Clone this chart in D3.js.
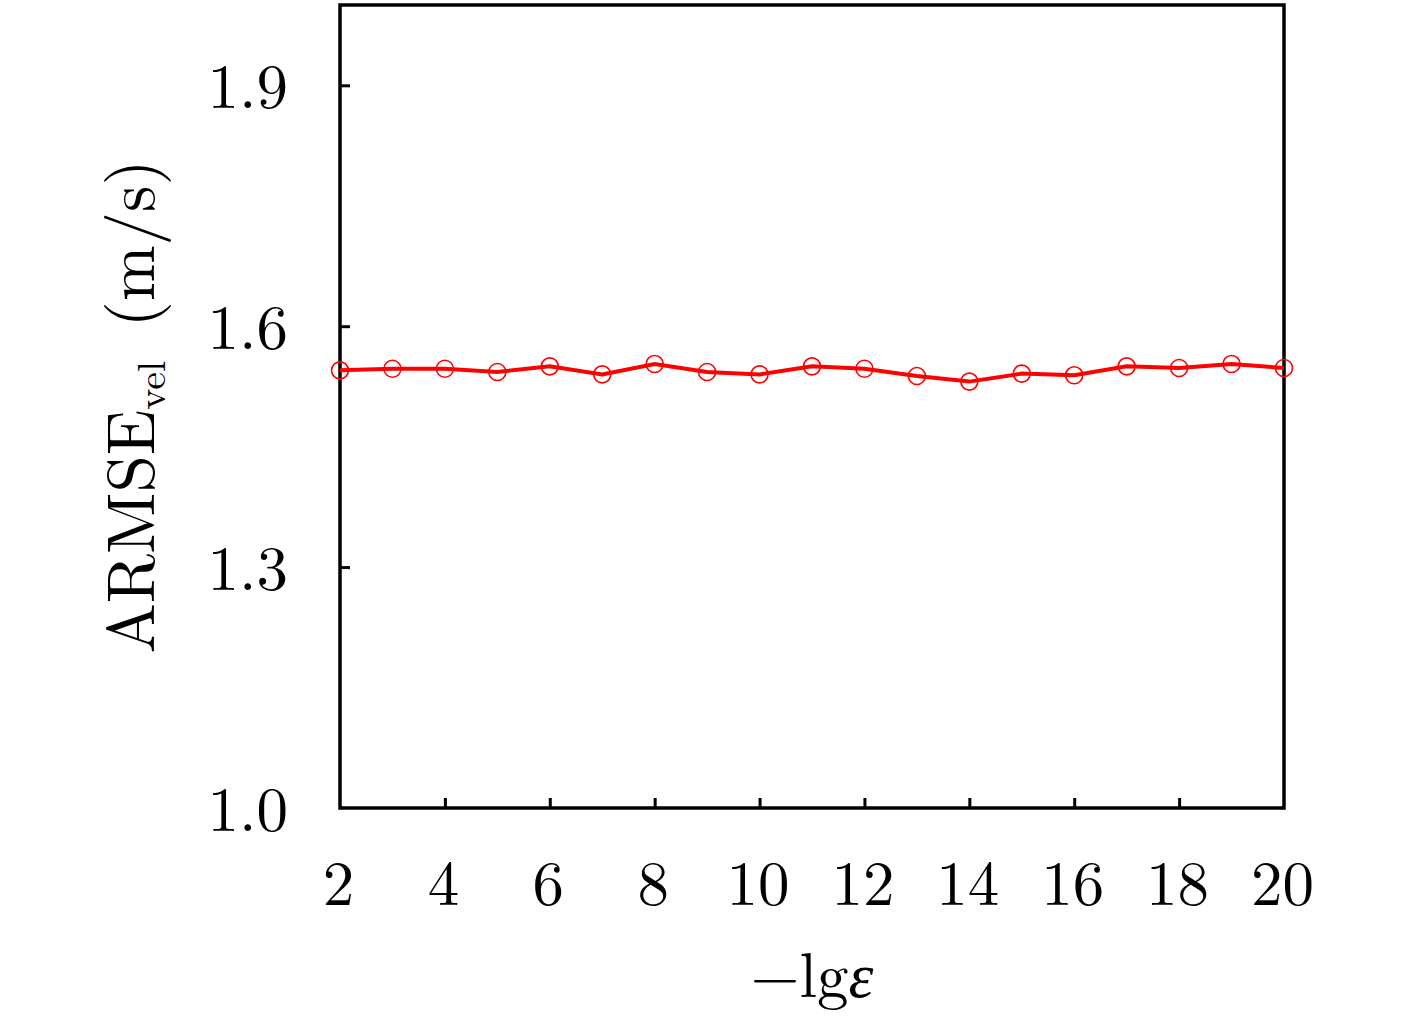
<!DOCTYPE html>
<head>
<meta charset="utf-8">
<style>
    body { margin: 0; background: #fff; }
    text { font-family: "Latin Modern Roman", "CMU Serif", "Liberation Serif", serif; fill: #000; }
</style>
</head>
<body>
    <script src="https://d3js.org/d3.v7.min.js"></script>
    <script>

    // data
    const xValues = [2, 3, 4, 5, 6, 7, 8, 9, 10, 11, 12, 13, 14, 15, 16, 17, 18, 19, 20];
    const armseVel = [1.545, 1.547, 1.547, 1.543, 1.550, 1.540, 1.553, 1.543, 1.540, 1.550,
                      1.547, 1.538, 1.531, 1.541, 1.539, 1.550, 1.548, 1.553, 1.548];
    const xTicks = [2, 4, 6, 8, 10, 12, 14, 16, 18, 20];
    const yTicks = [1.0, 1.3, 1.6, 1.9];

    // setup
    const W = 1417, H = 1020;
    const margin = { top: 5, right: 133, bottom: 212, left: 340 };
    const width = W - margin.left - margin.right;
    const height = H - margin.top - margin.bottom;

    let svg = d3.select('body').append('svg')
        .attr('width', W)
        .attr('height', H);
    let base = svg.append('g')
        .attr('transform', 'translate(' + margin.left + ',' + margin.top + ')');

    let x = d3.scaleLinear().domain([2, 20]).range([0, width]);
    let y = d3.scaleLinear().domain([1.0, 2.0]).range([height, 0]);

    // axes (ticks pointing inward)
    let xAxis = base.append('g')
        .attr('transform', 'translate(0,' + height + ')')
        .call(d3.axisBottom(x).tickValues(xTicks).tickSizeInner(-10).tickSizeOuter(0).tickPadding(52));
    let yAxis = base.append('g')
        .call(d3.axisLeft(y).tickValues(yTicks).tickSizeInner(-10).tickSizeOuter(0).tickPadding(52)
            .tickFormat(d3.format('.1f')));

    [xAxis, yAxis].forEach(a => {
        a.select('.domain').remove();
        a.selectAll('line').attr('stroke', '#000').attr('stroke-width', 3);
        a.selectAll('text').style('font-size', '63px');
    });
    // hide inner ticks at the box edges
    xAxis.selectAll('.tick').filter(d => d === 2 || d === 20).select('line').remove();
    yAxis.selectAll('.tick').filter(d => d === 1.0).select('line').remove();
    xAxis.selectAll('text').attr('dy', '0.71em').attr('dx', -2);
    yAxis.selectAll('text').attr('dy', '0.36em');

    // frame
    base.append('rect')
        .attr('x', 0).attr('y', 0)
        .attr('width', width).attr('height', height)
        .attr('fill', 'none')
        .attr('stroke', '#000')
        .attr('stroke-width', 3.5);

    // series
    let line = d3.line()
        .x((d, i) => x(xValues[i]))
        .y(d => y(d));

    base.append('path')
        .datum(armseVel)
        .attr('d', line)
        .attr('fill', 'none')
        .attr('stroke', '#ff0000')
        .attr('stroke-width', 4);

    base.selectAll('circle.pt').data(armseVel)
        .enter().append('circle')
            .attr('class', 'pt')
            .attr('cx', (d, i) => x(xValues[i]))
            .attr('cy', d => y(d))
            .attr('r', 8.5)
            .attr('fill', 'none')
            .attr('stroke', '#ff0000')
            .attr('stroke-width', 1.6);

    // axis titles
    let xl = svg.append('text')
        .attr('x', margin.left + width / 2)
        .attr('y', 997)
        .attr('text-anchor', 'middle')
        .style('font-size', '63px');
    xl.append('tspan').text('\u2212lg');
    xl.append('tspan').style('font-style', 'italic').text('\u03B5');

    let yl = svg.append('text')
        .attr('transform', 'translate(154,' + (margin.top + height / 2) + ') rotate(-90)')
        .attr('text-anchor', 'middle')
        .style('font-size', '67px');
    yl.append('tspan').text('ARMSE');
    yl.append('tspan').attr('dy', 11).style('font-size', '40px').text('vel');
    yl.append('tspan').attr('dy', -11).text('\u2002(m/s)');

    </script>
</body>
